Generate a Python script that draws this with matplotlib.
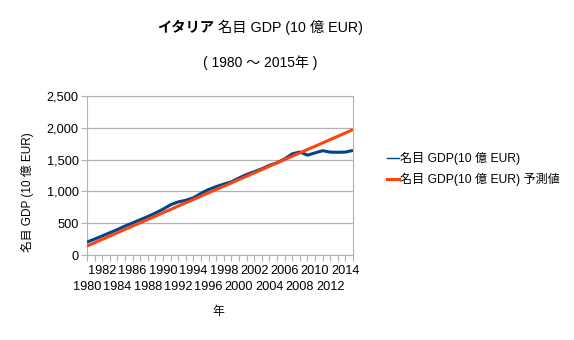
import matplotlib
matplotlib.use("Agg")
import matplotlib.pyplot as plt
import matplotlib.transforms as mtransforms
from matplotlib.lines import Line2D

plt.rcParams['font.family'] = ['Liberation Sans', 'Noto Sans CJK JP', 'DejaVu Sans']

# data (10億 EUR)
years = list(range(1980, 2016))
gdp = [204, 250, 300, 350, 400, 455, 505, 555, 605, 660,
       720, 790, 835, 860, 900, 970, 1030, 1075, 1115, 1150,
       1210, 1265, 1310, 1355, 1410, 1450, 1510, 1590, 1620, 1570,
       1605, 1640, 1618, 1615, 1618, 1645]
forecast = [141, 193, 246, 298, 350, 403, 455, 507, 559, 612,
            664, 716, 769, 821, 873, 926, 978, 1030, 1082, 1135,
            1187, 1239, 1292, 1344, 1396, 1449, 1501, 1553, 1605, 1658,
            1710, 1762, 1815, 1867, 1919, 1972]
yticks = [0, 500, 1000, 1500, 2000, 2500]
label_gdp = "名目 GDP(10 億 EUR)"
label_fc = "名目 GDP(10 億 EUR) 予測値"

blue = "#004586"
orange = "#ff420e"
grey = "#b3b3b3"

fig = plt.figure(figsize=(5.74, 3.4), dpi=100)
ax = fig.add_axes([87/574, 1-255/340, 266/574, 159/340])

ax.plot(years, gdp, color=blue, lw=2.2, solid_capstyle='butt', zorder=3)
ax.plot(years, forecast, color=orange, lw=2.2, solid_capstyle='butt', zorder=4)

ax.set_xlim(1980, 2015)
ax.set_ylim(0, 2500)
ax.set_yticks(yticks)
ax.set_yticklabels([f"{v:,}" for v in yticks], fontsize=9.2)
ax.yaxis.grid(True, color=grey, lw=0.9)
ax.set_axisbelow(True)
for s in ax.spines.values():
    s.set_color(grey)
ax.tick_params(axis='y', length=4, color=grey, pad=2)

# x ticks every year, labels every 2 years, staggered on two rows
ax.set_xticks(years)
ax.set_xticklabels([])
ax.tick_params(axis='x', length=4, color=grey)
trans = mtransforms.blended_transform_factory(ax.transData, ax.transAxes)
for y in years[::2]:
    lower = ((y - 1980) // 2) % 2 == 0
    ax.text(y, -0.065 if not lower else -0.165, str(y), transform=trans,
            ha='center', va='top', fontsize=9.2)

fig.text(218/574, 1-312/340, "年", fontsize=8.5, ha='center', va='center')
fig.text(27/574, 1-192/340, "名目 GDP (10 億 EUR)", rotation=90, fontsize=8.5,
         ha='center', va='center')

fig.text(214/574, 1-27/340, "イタリア", fontsize=10.3, fontweight='bold', ha='right', va='center')
fig.text(218/574, 1-27/340, "名目 GDP (10 億 EUR)", fontsize=10.3, ha='left', va='center')
fig.text(260/574, 1-63/340, "( 1980 ～ 2015年 )", fontsize=10, ha='center', va='center')

handles = [Line2D([], [], color=blue, lw=1.0), Line2D([], [], color=orange, lw=2.2)]
fig.legend(handles, [label_gdp, label_fc], loc='upper left', bbox_to_anchor=(376/574, 1-141/340),
           frameon=False, fontsize=8.7, handlelength=1.0, handletextpad=0.1, labelspacing=0.65)

fig.savefig("out.png", dpi=100)
